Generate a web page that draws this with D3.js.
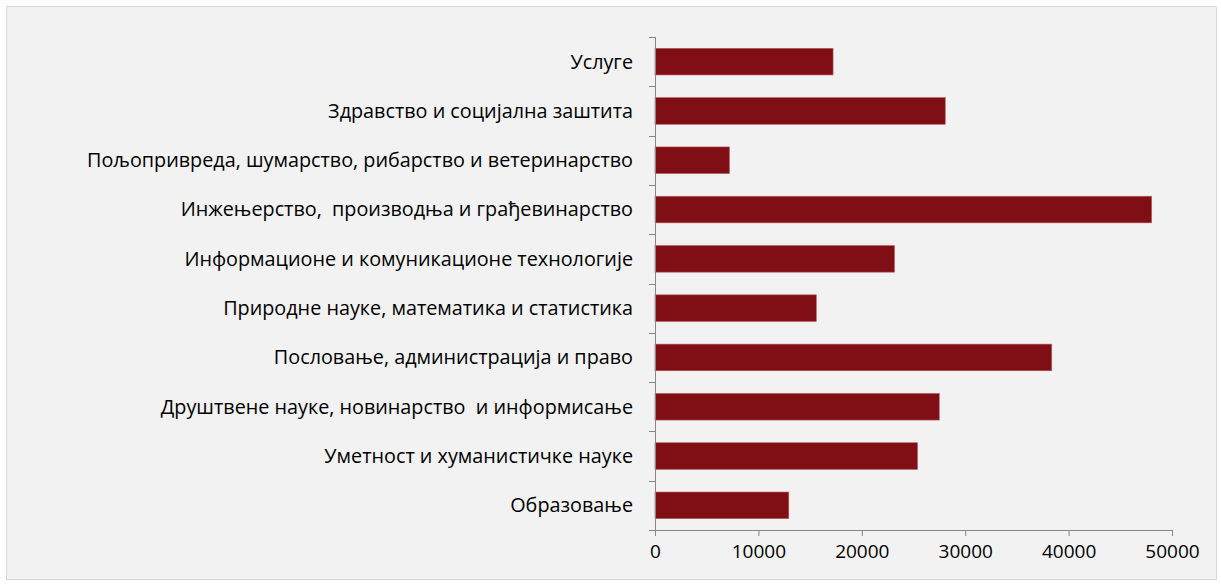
<!DOCTYPE html>
<html>
<head>
<meta charset="utf-8">
<script src="https://cdn.jsdelivr.net/npm/d3@7"></script>
<style>
  body { margin: 0; background: #fff; }
  text { font-family: "Open Sans", sans-serif; fill: #000; }
</style>
</head>
<body>
<script>
// categories, top to bottom as drawn
var categories = [
  "Услуге",
  "Здравство и социјална заштита",
  "Пољопривреда, шумарство, рибарство и ветеринарство",
  "Инжењерство,  производња и грађевинарство",
  "Информационе и комуникационе технологије",
  "Природне науке, математика и статистика",
  "Пословање, администрација и право",
  "Друштвене науке, новинарство  и информисање",
  "Уметност и хуманистичке науке",
  "Образовање"
];
var values = [17220, 28070, 7200, 48030, 23160, 15600, 38370, 27490, 25390, 12940];
var xTicks = [0, 10000, 20000, 30000, 40000, 50000];

var svgWidth = 1221;
var svgHeight = 585;
var margin = { top: 37, bottom: 55, left: 655, right: 49 };
var chartWidth = svgWidth - margin.left - margin.right;
var chartHeight = svgHeight - margin.top - margin.bottom;

var svg = d3.select("body")
  .append("svg")
  .attr("width", svgWidth)
  .attr("height", svgHeight);

// chart frame
svg.append("rect")
  .attr("x", 6.5).attr("y", 6.5)
  .attr("width", 1210).attr("height", 573)
  .attr("fill", "#f2f2f2")
  .attr("stroke", "#d9d9d9")
  .attr("stroke-width", 1);

var chartGroup = svg.append("g")
  .attr("transform", `translate(${margin.left}, ${margin.top})`);

var xScale = d3.scaleLinear()
  .domain([0, 50000])
  .range([0, chartWidth]);

var yScale = d3.scaleBand()
  .domain(categories)
  .range([0, chartHeight])
  .paddingInner(0.46)
  .paddingOuter(0.23);

// bars
chartGroup.selectAll(".bar")
  .data(categories)
  .enter()
  .append("rect")
  .attr("class", "bar")
  .attr("x", 0)
  .attr("y", d => yScale(d))
  .attr("width", (d, i) => xScale(values[i]))
  .attr("height", yScale.bandwidth())
  .attr("fill", "#7f0e15")
  .attr("stroke", "#b85a60")
  .attr("stroke-width", 0.6);

// x axis
var xAxis = d3.axisBottom(xScale)
  .tickValues(xTicks)
  .tickFormat(d3.format("d"))
  .tickSize(6)
  .tickSizeOuter(0);
var gx = chartGroup.append("g")
  .attr("transform", `translate(0, ${chartHeight})`)
  .call(xAxis);
gx.select(".domain").attr("stroke", "#868686");
gx.selectAll(".tick line").attr("stroke", "#868686");
gx.selectAll(".tick text")
  .attr("y", 14)
  .attr("dy", "0.75em")
  .style("font-size", "19px");

// y axis: ticks sit on the band boundaries
var boundaries = d3.range(categories.length + 1).map(i => i * chartHeight / categories.length);
chartGroup.append("line")
  .attr("x1", 0.5).attr("x2", 0.5)
  .attr("y1", 0).attr("y2", chartHeight)
  .attr("stroke", "#868686");
chartGroup.selectAll(".ytick")
  .data(boundaries)
  .enter()
  .append("line")
  .attr("x1", -6).attr("x2", 0)
  .attr("y1", d => Math.round(d) + 0.5)
  .attr("y2", d => Math.round(d) + 0.5)
  .attr("stroke", "#868686");

chartGroup.selectAll(".ylabel")
  .data(categories)
  .enter()
  .append("text")
  .attr("x", -22)
  .attr("y", d => yScale(d) + yScale.bandwidth() / 2)
  .attr("dy", "0.35em")
  .attr("text-anchor", "end")
  .style("font-size", "19.8px")
  .style("white-space", "pre")
  .text(d => d);
</script>
</body>
</html>
